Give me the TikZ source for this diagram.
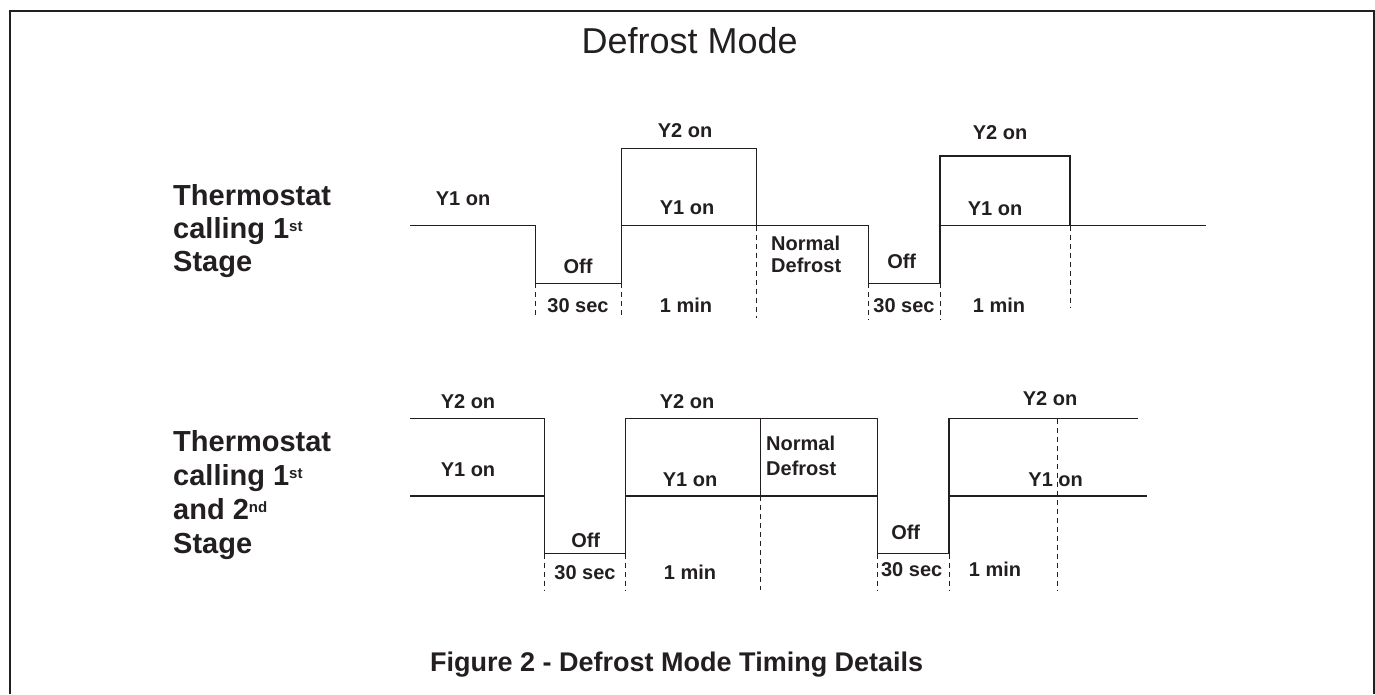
\documentclass[tikz,border=0pt]{standalone}
\usepackage{fontspec}
\setmainfont{Liberation Sans}
\definecolor{ink}{RGB}{35,31,32}
\newcommand\mysup[1]{\raisebox{7pt}{\fontsize{15}{15}\selectfont #1}}
\begin{document}
\begin{tikzpicture}[x=1pt,y=-1pt,
  sig/.style={draw=ink,line width=1.1pt,line join=miter},
  guide/.style={draw=ink,line width=1pt,dash pattern=on 5pt off 4pt},
  lbl/.style={text=ink,font=\fontsize{20}{22}\selectfont\bfseries,anchor=base,inner sep=0pt},
  lbll/.style={lbl,anchor=base west},
  side/.style={text=ink,font=\fontsize{29}{33}\selectfont\bfseries,anchor=base west,inner sep=0pt},
  frame/.style={draw=ink,line width=2pt}]
\useasboundingbox (0,0) rectangle (1375,694);
% frame
\draw[frame] (9.5,694) -- (9.5,11) -- (1373.5,11) -- (1373.5,694);
% title
\node[text=ink,font=\fontsize{36}{40}\selectfont,anchor=base,inner sep=0pt] (title) at (689.7,53.3) {Defrost Mode};

% ---------- top timing diagram ----------
\draw[sig] (410,225.7) -- (535.7,225.7) -- (535.7,283.3) -- (621.3,283.3) -- (621.3,148.3) -- (756.3,148.3) -- (756.3,225.7);
\draw[sig] (621.3,225.7) -- (868.3,225.7) -- (868.3,283.3) -- (940,283.3) -- (940,156) -- (1070,156) -- (1070,225.7);
\draw[sig] (940,225.7) -- (1205.7,225.7);
\draw[guide] (535.7,283.3) -- (535.7,318);
\draw[guide] (621.3,283.3) -- (621.3,318);
\draw[guide] (756.3,225.7) -- (756.3,318);
\draw[guide] (868.3,283.3) -- (868.3,320);
\draw[guide] (940,283.3) -- (940,320);
\draw[guide] (1070,225.7) -- (1070,307);

\node[lbl] (t1) at (463,205) {Y1 on};
\node[lbl] (t2) at (578,273) {Off};
\node[lbl] (t3) at (578,312.3) {30 sec};
\node[lbl] (t4) at (685,137.5) {Y2 on};
\node[lbl] (t5) at (687,214) {Y1 on};
\node[lbl] (t6) at (686,312.3) {1 min};
\node[lbll] (t7) at (771,250) {Normal};
\node[lbll] (t8) at (771,272.7) {Defrost};
\node[lbl] (t9) at (901.7,268.3) {Off};
\node[lbl] (t10) at (904,312.3) {30 sec};
\node[lbl] (t11) at (1000,139) {Y2 on};
\node[lbl] (t12) at (995,215) {Y1 on};
\node[lbl] (t13) at (999,312.3) {1 min};

% ---------- bottom timing diagram ----------
\draw[sig] (410,418.7) -- (544.7,418.7) -- (544.7,553.7) -- (625.7,553.7) -- (625.7,418.7) -- (877.7,418.7) -- (877.7,553.7) -- (949,553.7) -- (949,418.7) -- (1137.7,418.7);
\draw[sig] (410,496) -- (544.7,496);
\draw[sig] (625.7,496) -- (877.7,496);
\draw[sig] (949,496) -- (1147.3,496);
\draw[sig] (760.7,418.7) -- (760.7,496);
\draw[guide] (760.7,496) -- (760.7,590);
\draw[guide] (544.7,553.7) -- (544.7,590);
\draw[guide] (625.7,553.7) -- (625.7,590);
\draw[guide] (877.7,553.7) -- (877.7,590);
\draw[guide] (949,553.7) -- (949,590);
\draw[guide] (1057.3,418.7) -- (1057.3,590);

\node[lbl] (b1) at (468,408.3) {Y2 on};
\node[lbl] (b2) at (468,476.7) {Y1 on};
\node[lbl] (b3) at (585.7,547.7) {Off};
\node[lbl] (b4) at (585,579) {30 sec};
\node[lbl] (b5) at (687,408.3) {Y2 on};
\node[lbl] (b6) at (690,486.7) {Y1 on};
\node[lbl] (b7) at (690,579) {1 min};
\node[lbll] (b8) at (766,450.7) {Normal};
\node[lbll] (b9) at (766,475) {Defrost};
\node[lbl] (b10) at (905.7,539.3) {Off};
\node[lbl] (b11) at (911.7,576.7) {30 sec};
\node[lbl] (b12) at (995,576.7) {1 min};
\node[lbl] (b13) at (1050,405.7) {Y2 on};
\node[lbl] (b14) at (1055.7,486) {Y1 on};

% ---------- side labels ----------
\node[side] (s1) at (173,205) {Thermostat};
\node[side] (s2) at (173,238) {calling 1\mysup{st}};
\node[side] (s3) at (173,271) {Stage};
\node[side] (s4) at (173,451) {Thermostat};
\node[side] (s5) at (173,485) {calling 1\mysup{st}};
\node[side] (s6) at (173,519) {and 2\mysup{nd}};
\node[side] (s7) at (173,553) {Stage};

% caption
\node[text=ink,font=\fontsize{27}{30}\selectfont\bfseries,anchor=base west,inner sep=0pt] (cap) at (430,671.7) {Figure 2 - Defrost Mode Timing Details};
\end{tikzpicture}
\end{document}
